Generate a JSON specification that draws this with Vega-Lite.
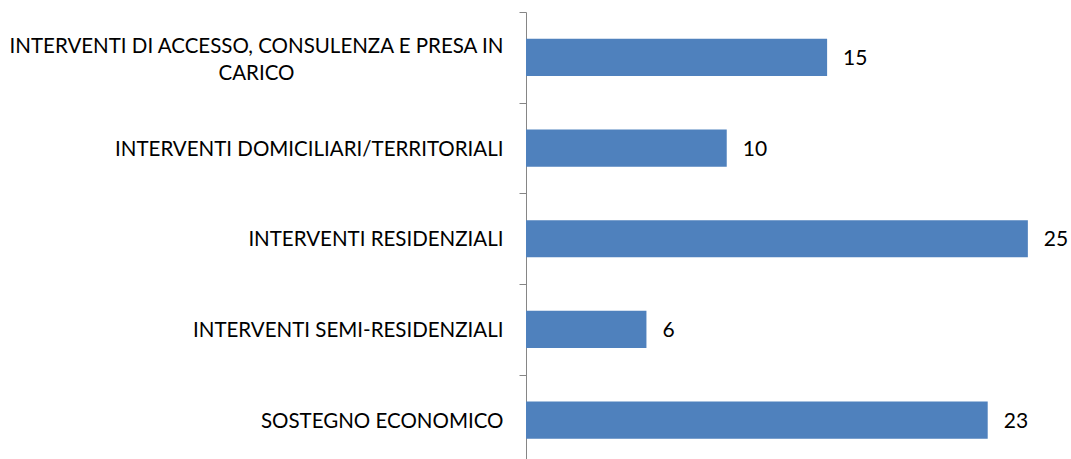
{
  "$schema": "https://vega.github.io/schema/vega-lite/v6.json",
  "autosize": {"type": "none"},
  "padding": {"left": 526, "top": 12, "right": 3, "bottom": 0},
  "width": 542,
  "height": 447,
  "background": "white",
  "config": {"view": {"stroke": null}},
  "data": {"values": [
    {"categoria": "INTERVENTI DI ACCESSO, CONSULENZA E PRESA IN CARICO", "valore": 15},
    {"categoria": "INTERVENTI DOMICILIARI/TERRITORIALI", "valore": 10},
    {"categoria": "INTERVENTI RESIDENZIALI", "valore": 25},
    {"categoria": "INTERVENTI SEMI-RESIDENZIALI", "valore": 6},
    {"categoria": "SOSTEGNO ECONOMICO", "valore": 23}
  ]},
  "encoding": {
    "y": {
      "field": "categoria", "type": "nominal", "sort": null, "title": null,
      "scale": {"paddingInner": 0, "paddingOuter": 0, "range": [0, 453.5]},
      "axis": {
        "domainColor": "#868686", "tickColor": "#868686", "tickSize": 7, "tickBand": "extent",
        "labelFont": "Lato", "labelFontSize": 20.5, "labelColor": "#000000", "labelLimit": 600,
        "labelLineHeight": 27,
        "labelAlign": {"condition": {"test": "datum.value == 'INTERVENTI DI ACCESSO, CONSULENZA E PRESA IN CARICO'", "value": "center"}, "value": "right"},
        "labelPadding": {"condition": {"test": "datum.value == 'INTERVENTI DI ACCESSO, CONSULENZA E PRESA IN CARICO'", "value": 263}, "value": 16},
        "labelOffset": {"condition": {"test": "datum.value == 'INTERVENTI DI ACCESSO, CONSULENZA E PRESA IN CARICO'", "value": -11}, "value": 1},
        "labelExpr": "datum.value == 'INTERVENTI DI ACCESSO, CONSULENZA E PRESA IN CARICO' ? ['INTERVENTI DI ACCESSO, CONSULENZA E PRESA IN', 'CARICO'] : datum.label"
      }
    },
    "x": {"field": "valore", "type": "quantitative", "scale": {"domain": [0, 27]}, "axis": null}
  },
  "layer": [
    {"mark": {"type": "bar", "color": "#4F81BD", "height": {"band": 0.41}}},
    {"mark": {"type": "text", "align": "left", "dx": 16, "dy": 1.5, "font": "Lato", "fontSize": 21, "color": "#000000"},
     "encoding": {"text": {"field": "valore", "type": "quantitative"}}}
  ]
}
